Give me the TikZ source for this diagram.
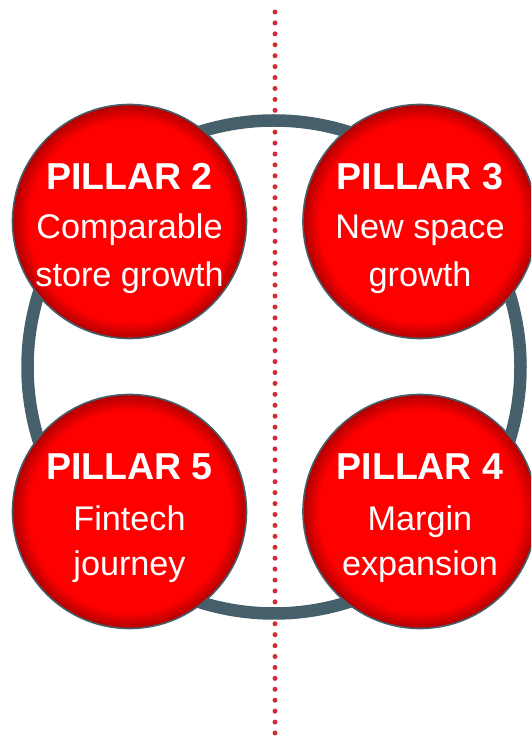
\documentclass[tikz,border=0pt]{standalone}
\usepackage{fontspec}
\setmainfont{Liberation Sans}
\usetikzlibrary{calc}

\definecolor{ringgray}{HTML}{455F6B}
\definecolor{dotred}{HTML}{D52B35}
\definecolor{pillarred}{HTML}{FF0000}
\definecolor{pillardark}{HTML}{B00000}

% red disc that darkens towards its rim
\pgfdeclareradialshading{pillarshade}{\pgfpoint{0bp}{0bp}}{%
  color(0bp)=(pillarred); color(21.5bp)=(pillarred);
  color(25bp)=(pillardark); color(50bp)=(pillardark)}

\tikzset{
  pillar/.style={circle, minimum size=234pt, inner sep=0pt,
    shading=pillarshade, draw=ringgray, line width=1.6pt},
  ptitle/.style={anchor=base, text=white, inner sep=0pt,
    font=\bfseries\fontsize{37.5}{40}\selectfont},
  ptext/.style={anchor=base, text=white, inner sep=0pt,
    font=\fontsize{34.2}{40}\selectfont},
  divider/.style={dotred, line width=5pt, line cap=round,
    dash pattern=on 0pt off 10.924pt},
  loop/.style={ringgray, line width=12.5pt}
}

\begin{document}
\begin{tikzpicture}[x=1pt,y=1pt]
  \useasboundingbox (0,0) rectangle (531,740);
  \clip (0,0) rectangle (531,740);

  % vertical dotted divider
  \coordinate (dtop) at (275,728);
  \coordinate (dbot) at (275,7);
  \draw[divider] (dtop) -- (dbot);

  % ring linking the pillars
  \coordinate (hub) at (274,373);
  \draw[loop] (hub) circle[radius=246.5];

  % the four pillars
  \node[pillar] (p2) at (129.5,518.5) {};
  \node[pillar] (p3) at (420,518.5) {};
  \node[pillar] (p5) at (129.5,228.5) {};
  \node[pillar] (p4) at (420,228.5) {};

  \node[ptitle] (p2a) at ($(p2)+(0,31.5)$) {PILLAR 2};
  \node[ptext]  (p2b) at ($(p2)+(0,-17.5)$) {Comparable};
  \node[ptext]  (p2c) at ($(p2)+(0,-65.5)$) {store growth};

  \node[ptitle] (p3a) at ($(p3)+(0,31.5)$) {PILLAR 3};
  \node[ptext]  (p3b) at ($(p3)+(0,-17.5)$) {New space};
  \node[ptext]  (p3c) at ($(p3)+(0,-65.5)$) {growth};

  \node[ptitle] (p5a) at ($(p5)+(0,31.5)$) {PILLAR 5};
  \node[ptext]  (p5b) at ($(p5)+(0,-19)$) {Fintech};
  \node[ptext]  (p5c) at ($(p5)+(0,-64)$) {journey};

  \node[ptitle] (p4a) at ($(p4)+(0,31.5)$) {PILLAR 4};
  \node[ptext]  (p4b) at ($(p4)+(0,-19)$) {Margin};
  \node[ptext]  (p4c) at ($(p4)+(0,-64)$) {expansion};
\end{tikzpicture}
\end{document}
